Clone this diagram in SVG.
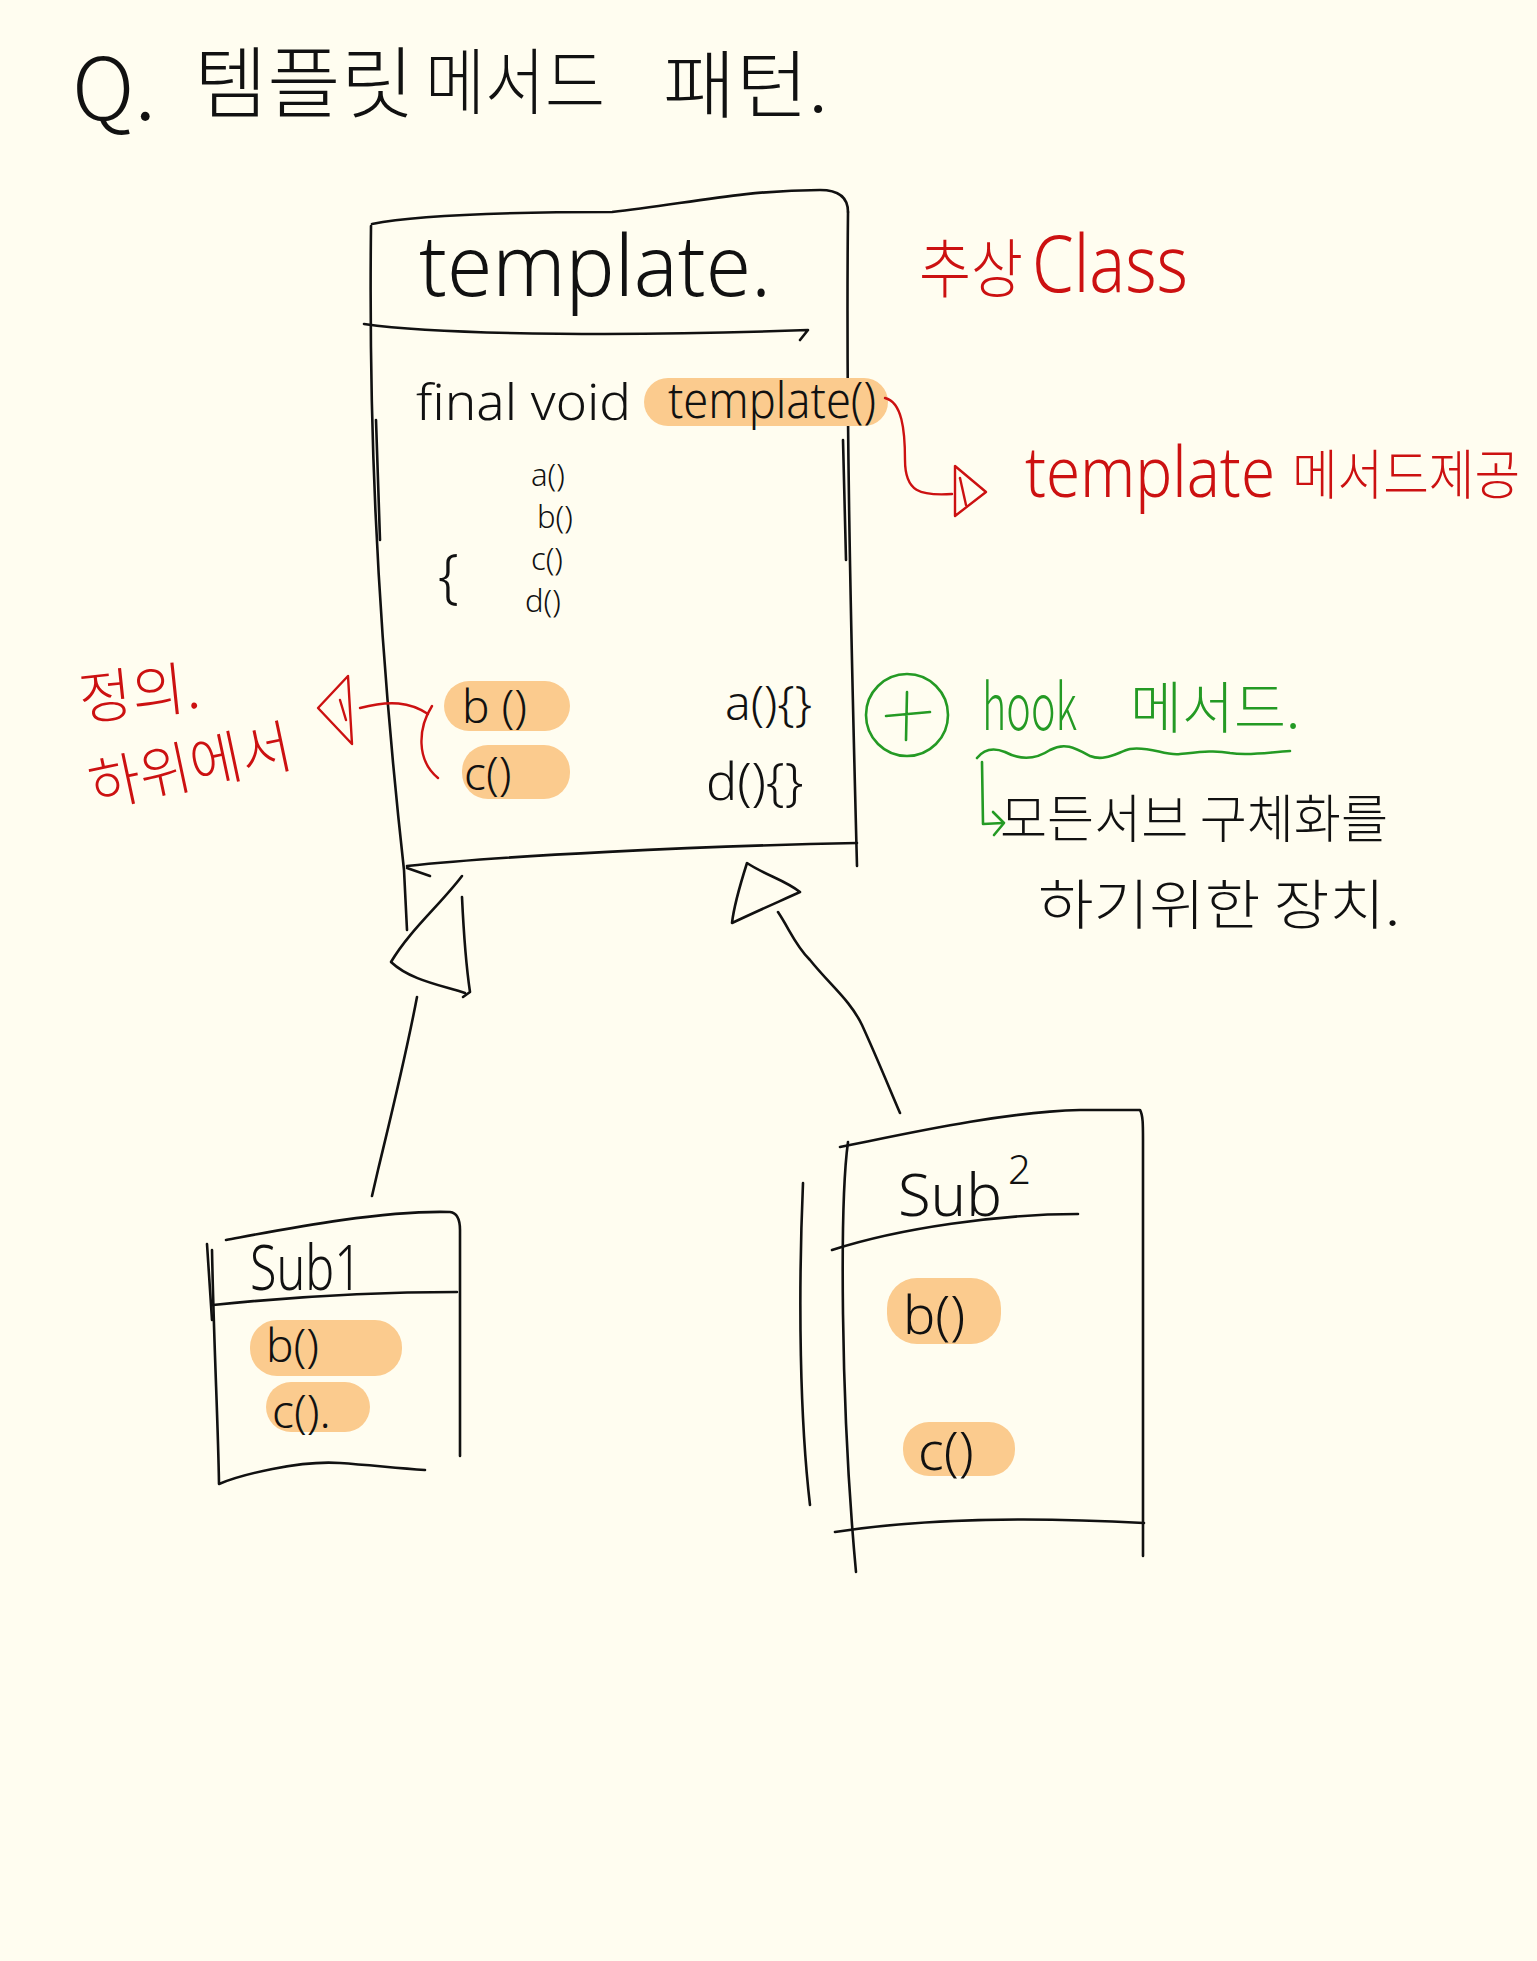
<svg xmlns="http://www.w3.org/2000/svg" width="1537" height="1961" viewBox="0 0 1537 1961">
<defs>
<style>
.bg{fill:#fffdf0}
.ink{fill:none;stroke:#111;stroke-width:2.6;stroke-linecap:round;stroke-linejoin:round}
.red{fill:none;stroke:#cc1111;stroke-width:2.4;stroke-linecap:round;stroke-linejoin:round}
.grn{fill:none;stroke:#249a24;stroke-width:2.6;stroke-linecap:round;stroke-linejoin:round}
.hl{fill:#fbcb8e}
.t{font-family:"Noto Sans CJK KR","Noto Sans",sans-serif;font-weight:300;fill:#111}
.l{font-family:"Noto Sans","Noto Sans CJK KR",sans-serif;font-weight:300;fill:#111}
.tr{font-family:"Noto Sans CJK KR","Noto Sans",sans-serif;font-weight:300;fill:#cc1111}
.lr{font-family:"Noto Sans","Noto Sans CJK KR",sans-serif;font-weight:300;fill:#cc1111}
.tg{font-family:"Noto Sans CJK KR","Noto Sans",sans-serif;font-weight:300;fill:#249a24}
</style>
</defs>
<rect class="bg" x="0" y="0" width="1537" height="1961"/>

<g id="title">
<text class="t" x="72" y="120" font-size="86">Q.</text>
<text class="t" x="194" y="112" font-size="78" textLength="220" lengthAdjust="spacingAndGlyphs">템플릿</text>
<text class="t" x="425" y="108" font-size="72" textLength="180" lengthAdjust="spacingAndGlyphs">메서드</text>
<text class="t" x="663" y="112" font-size="74" textLength="165" lengthAdjust="spacingAndGlyphs">패턴.</text>
</g>

<g id="template-class">
<path class="ink" d="M372,224 C420,214 520,212 612,212 C680,205 740,190 820,190 C840,190 848,198 848,212"/>
<path class="ink" d="M371,226 C369,400 374,600 404,870 L407,930"/>
<path class="ink" d="M376,420 L380,540"/>
<path class="ink" d="M848,212 C846,400 850,600 857,866"/>
<path class="ink" d="M843,440 L846,560"/>
<path class="ink" d="M364,324 C450,336 650,336 808,330 L800,340"/>
<path class="ink" d="M407,866 C500,856 700,846 857,843"/>
<path class="ink" d="M407,868 L430,876"/>
<text class="l" x="419" y="296" font-size="84" textLength="352" lengthAdjust="spacingAndGlyphs">template.</text>
<text class="l" x="416" y="420" font-size="50" textLength="215" lengthAdjust="spacingAndGlyphs">final void</text>
<rect class="hl" x="644" y="378" width="244" height="48" rx="24"/>
<text class="l" x="668" y="418" font-size="50" textLength="208" lengthAdjust="spacingAndGlyphs">template()</text>
<text class="l" x="531" y="486" font-size="31">a()</text>
<text class="l" x="537" y="528" font-size="31">b()</text>
<text class="l" x="531" y="570" font-size="31">c()</text>
<text class="l" x="525" y="612" font-size="31">d()</text>
<text class="l" x="438" y="596" font-size="58">{</text>
<rect class="hl" x="444" y="681" width="126" height="50" rx="25"/>
<text class="l" x="462" y="723" font-size="46">b ()</text>
<rect class="hl" x="462" y="745" width="108" height="54" rx="26"/>
<text class="l" x="464" y="790" font-size="46">c()</text>
<text class="l" x="725" y="720" font-size="48">a(){}</text>
<text class="l" x="706" y="800" font-size="52">d(){}</text>
</g>

<g id="note-abstract">
<text class="tr" x="919" y="292" font-size="64" textLength="104" lengthAdjust="spacingAndGlyphs">추상</text>
<text class="lr" x="1032" y="292" font-size="80" textLength="156" lengthAdjust="spacingAndGlyphs">Class</text>
</g>

<g id="note-template-method">
<text class="lr" x="1025" y="497" font-size="70" textLength="250" lengthAdjust="spacingAndGlyphs">template</text>
<text class="tr" x="1292" y="495" font-size="54" textLength="228" lengthAdjust="spacingAndGlyphs">메서드제공</text>
</g>

<g id="note-define">
<text class="tr" x="81" y="720" font-size="58" transform="rotate(-6 81 720)">정의.</text>
<text class="tr" x="94" y="808" font-size="58" transform="rotate(-12 94 808)" textLength="206" lengthAdjust="spacingAndGlyphs">하위에서</text>
</g>

<g id="note-hook">
<circle class="grn" cx="907" cy="715" r="41"/>
<path class="grn" d="M886,716 L930,712 M907,692 L906,740"/>
<text class="tg" x="982" y="730" font-size="64" textLength="95" lengthAdjust="spacingAndGlyphs">hook</text>
<text class="tg" x="1130" y="728" font-size="56" textLength="170" lengthAdjust="spacingAndGlyphs">메서드.</text>
<path class="grn" d="M977,758 C985,748 995,748 1005,752 C1020,760 1035,760 1050,750 C1065,742 1075,748 1090,756 C1105,762 1118,752 1130,749 C1150,746 1165,756 1180,754 C1200,752 1215,750 1230,753 C1250,756 1270,752 1290,751"/>
<path class="grn" d="M982,762 L983,824 L1003,823"/>
<path class="grn" d="M993,812 L1004,823 L994,835"/>
<text class="t" x="1000" y="838" font-size="52" textLength="388" lengthAdjust="spacingAndGlyphs">모든서브 구체화를</text>
<text class="t" x="1038" y="925" font-size="54" textLength="362" lengthAdjust="spacingAndGlyphs">하기위한 장치.</text>
</g>

<g id="sub1">
<path class="ink" d="M226,1240 C280,1230 380,1210 450,1212 C458,1213 460,1220 460,1230 L460,1456"/>
<path class="ink" d="M207,1244 L212,1320"/>
<path class="ink" d="M212,1250 C214,1350 218,1420 219,1484 C240,1475 300,1460 340,1463 C370,1465 395,1468 425,1470"/>
<path class="ink" d="M213,1305 C300,1296 380,1292 457,1292"/>
<text class="l" x="250" y="1290" font-size="62" textLength="112" lengthAdjust="spacingAndGlyphs">Sub1</text>
<rect class="hl" x="250" y="1320" width="152" height="56" rx="27"/>
<text class="l" x="266" y="1362" font-size="46">b()</text>
<rect class="hl" x="266" y="1382" width="104" height="50" rx="25"/>
<text class="l" x="272" y="1428" font-size="46">c().</text>
</g>

<g id="sub2">
<path class="ink" d="M840,1147 C900,1135 1000,1112 1080,1110 L1140,1110 C1143,1115 1143,1125 1143,1140 L1143,1556"/>
<path class="ink" d="M848,1142 C840,1200 840,1400 856,1572"/>
<path class="ink" d="M803,1183 C798,1300 800,1420 810,1505"/>
<path class="ink" d="M832,1250 C900,1228 1000,1214 1078,1214"/>
<path class="ink" d="M835,1532 C900,1522 1000,1515 1144,1523"/>
<text class="l" x="898" y="1216" font-size="58" textLength="104" lengthAdjust="spacingAndGlyphs">Sub</text>
<text class="l" x="1008" y="1184" font-size="40">2</text>
<rect class="hl" x="887" y="1278" width="114" height="66" rx="30"/>
<text class="l" x="903" y="1334" font-size="54">b()</text>
<rect class="hl" x="903" y="1422" width="112" height="54" rx="26"/>
<text class="l" x="918" y="1470" font-size="54">c()</text>
</g>

<g id="connectors">
<path class="ink" d="M462,876 C440,905 410,930 391,962 C410,980 440,985 465,993"/>
<path class="ink" d="M462,897 C464,940 466,965 470,992 L463,997"/>
<path class="ink" d="M417,997 C405,1060 390,1120 378,1170 L372,1196"/>
<path class="ink" d="M747,863 C740,885 734,905 732,923 C755,912 778,902 800,892 C785,880 765,875 747,863 Z"/>
<path class="ink" d="M778,912 C790,930 795,945 810,960 C830,985 850,1000 862,1025 C878,1060 890,1090 900,1113"/>
<path class="red" d="M885,398 C902,402 905,430 905,460 C905,492 920,496 952,494"/>
<path class="red" d="M955,466 L955,516 L986,492 Z"/>
<path class="red" d="M960,478 L966,505"/>
<path class="red" d="M432,706 C418,728 416,760 438,778"/>
<path class="red" d="M428,714 C410,702 390,700 360,708"/>
<path class="red" d="M318,708 L348,676 L352,744 Z"/>
<path class="red" d="M340,700 L346,720"/>
</g>
</svg>
